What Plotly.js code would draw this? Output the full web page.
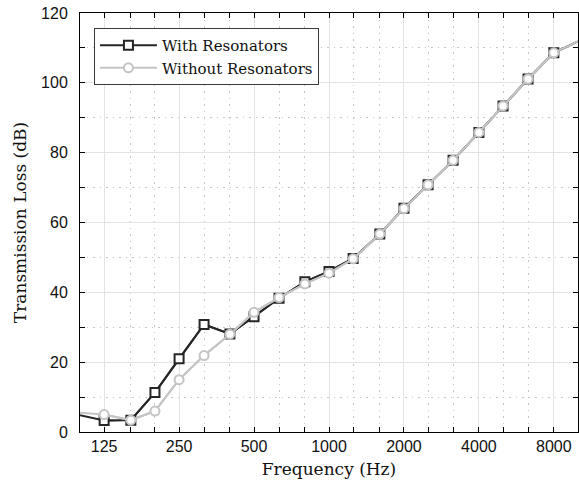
<!DOCTYPE html>
<html>
<head>
<meta charset="utf-8">
<script src="https://cdn.plot.ly/plotly-3.0.1.min.js"></script>
<style>
  html, body { margin: 0; padding: 0; background: #ffffff; }
  #chart { width: 579px; height: 489px; }
</style>
</head>
<body>
<div id="chart"></div>
<script>
// One-third-octave band centre frequencies (Hz); the end bands run to the plot edges
const freq = [100, 125, 160, 200, 250, 315, 400, 500, 630, 800, 1000, 1250, 1600,
              2000, 2500, 3150, 4000, 5000, 6300, 8000, 10000];

// Transmission loss (dB)
const withResonators = [4.8, 3.3, 3.4, 11.3, 21.0, 30.8, 28.1, 33.0, 38.3, 43.0, 46.0,
                        49.7, 56.7, 64.1, 70.8, 77.8, 85.8, 93.4, 101.1, 108.6, 111.9];
const withoutResonators = [5.5, 5.0, 3.4, 6.0, 15.0, 21.9, 28.0, 34.3, 38.5, 42.4, 45.5,
                           49.6, 56.7, 64.0, 70.8, 77.8, 85.8, 93.4, 101.1, 108.6, 111.9];

// Axis labelling
const octaveTicks = [125, 250, 500, 1000, 2000, 4000, 8000];
const octaveTickText = ['125', '250', '500', '1000', '2000', '4000', '8000'];
const thirdOctaveTicks = [160, 200, 315, 400, 630, 800, 1250, 1600, 2500, 3150, 5000, 6300];

const serif = 'DejaVu Serif, Liberation Serif, serif';
const sans = 'Liberation Sans, Arial, Helvetica, sans-serif';

// Markers are shown only on the measured bands 125 Hz .. 8 kHz
const inBand = (f) => f >= 125 && f <= 8000;
const pick = (arr) => arr.filter((_, i) => inBand(freq[i]));

function series(name, values, color, symbol) {
  const full = {
    x: freq, y: values, type: 'scatter', mode: 'lines',
    line: { color: color, width: 2 },
    showlegend: false, hoverinfo: 'skip'
  };
  const marked = {
    x: pick(freq), y: pick(values), type: 'scatter', mode: 'lines+markers',
    name: name,
    line: { color: color, width: 2 },
    marker: { symbol: symbol, size: 9, color: '#ffffff', line: { color: color, width: 2 } }
  };
  return [full, marked];
}

const data = [
  ...series('With Resonators', withResonators, '#262626', 'square'),
  ...series('Without Resonators', withoutResonators, '#c4c4c4', 'circle')
];

const dottedGrid = { gridcolor: '#c6c6c6', griddash: '1.5px,5px', gridwidth: 1 };

const layout = {
  width: 579,
  height: 489,
  margin: { l: 80, r: 1, t: 13, b: 57 },
  paper_bgcolor: '#ffffff',
  plot_bgcolor: '#ffffff',
  showlegend: true,
  legend: {
    x: 0.028, y: 0.964, xanchor: 'left', yanchor: 'top',
    bgcolor: '#ffffff', bordercolor: '#3a3a3a', borderwidth: 1,
    font: { family: serif, size: 15, color: '#111111' },
    itemwidth: 57, tracegroupgap: 0
  },
  xaxis: {
    type: 'log',
    range: [2, 4],
    tickmode: 'array',
    tickvals: octaveTicks,
    ticktext: octaveTickText,
    ticks: 'inside', ticklen: 5, tickcolor: '#000000', tickwidth: 1,
    showline: true, linecolor: '#000000', linewidth: 1, mirror: 'allticks',
    showgrid: true, gridcolor: '#e3e3e3', gridwidth: 1,
    zeroline: false,
    tickfont: { family: sans, size: 16, color: '#111111' },
    minor: Object.assign({
      tickmode: 'array', tickvals: thirdOctaveTicks,
      ticks: 'inside', ticklen: 5, tickcolor: '#000000', showgrid: true
    }, dottedGrid),
    title: { text: 'Frequency (Hz)', font: { family: serif, size: 17, color: '#111111' }, standoff: 8 }
  },
  yaxis: {
    range: [0, 120],
    tickmode: 'linear', tick0: 0, dtick: 20,
    ticks: 'inside', ticklen: 5, tickcolor: '#000000', tickwidth: 1,
    ticklabelstandoff: 8,
    showline: true, linecolor: '#000000', linewidth: 1, mirror: 'allticks',
    showgrid: true, gridcolor: '#e3e3e3', gridwidth: 1,
    zeroline: false,
    tickfont: { family: sans, size: 16, color: '#111111' },
    minor: Object.assign({
      tickmode: 'linear', tick0: 10, dtick: 20,
      ticks: 'inside', ticklen: 5, tickcolor: '#000000', showgrid: true
    }, dottedGrid),
    title: { text: 'Transmission Loss (dB)', font: { family: serif, size: 17, color: '#111111' }, standoff: 10 }
  }
};

Plotly.newPlot('chart', data, layout, { displayModeBar: false, staticPlot: true });
</script>
</body>
</html>
